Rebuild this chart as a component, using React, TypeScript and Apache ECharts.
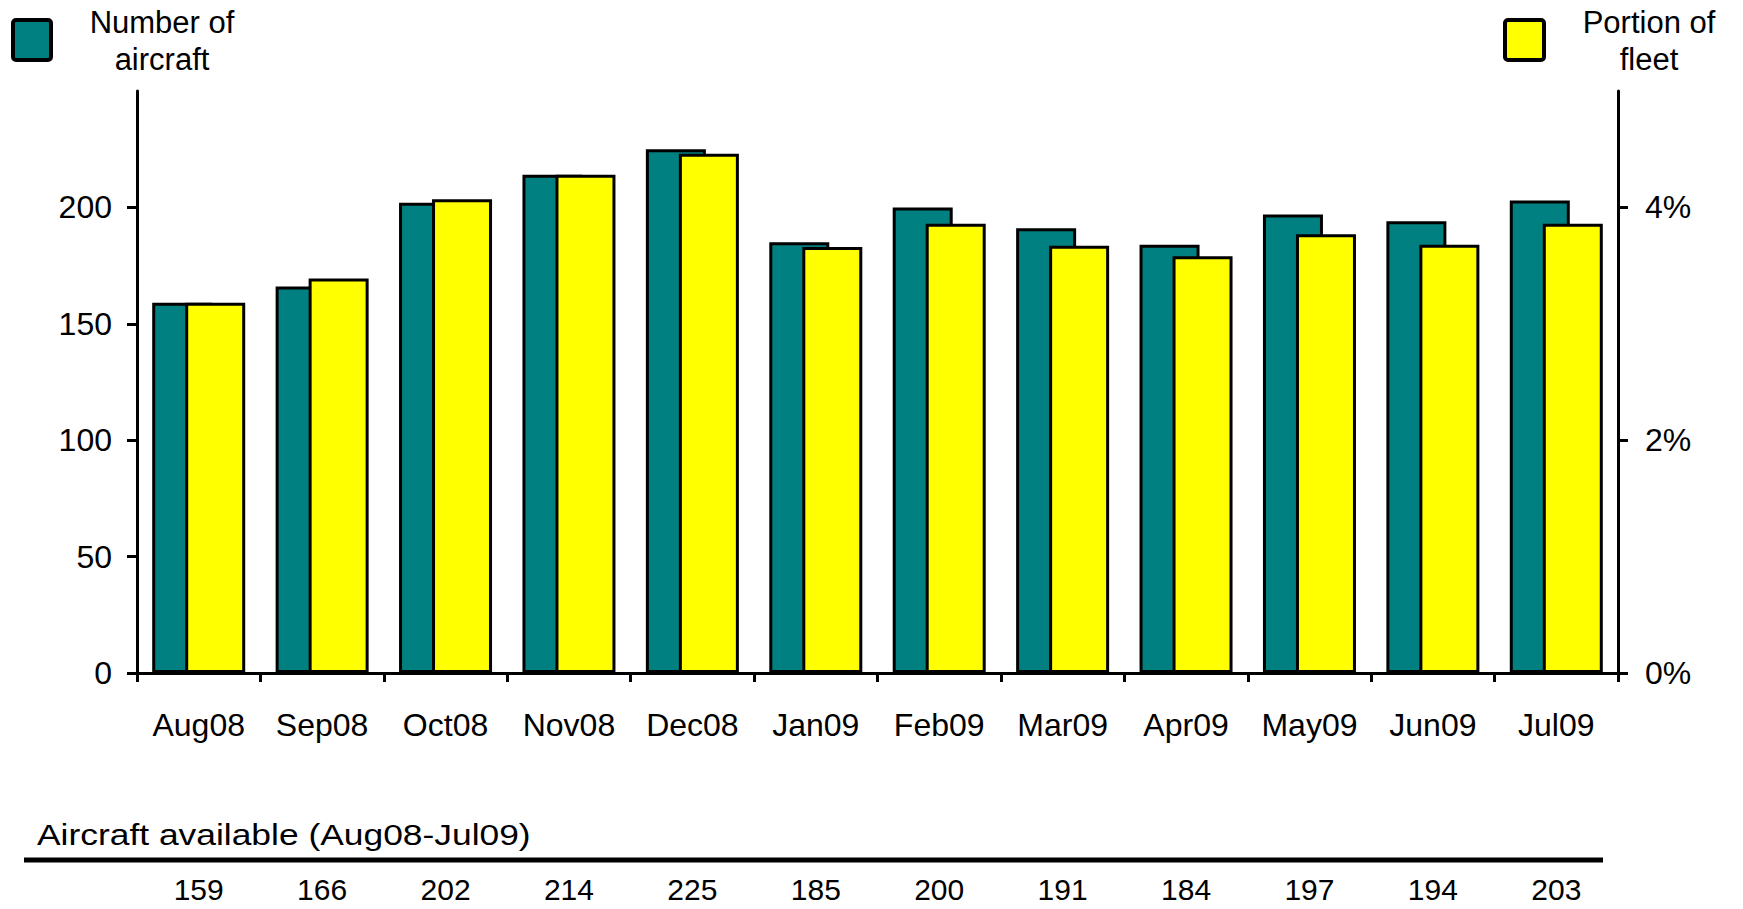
import React, { useEffect, useRef } from "react";
import * as echarts from "echarts";

const categories = ["Aug08", "Sep08", "Oct08", "Nov08", "Dec08", "Jan09", "Feb09", "Mar09", "Apr09", "May09", "Jun09", "Jul09"];
const aircraftCount = [159, 166, 202, 214, 225, 185, 200, 191, 184, 197, 194, 203];
const fleetPortion = [3.18, 3.39, 4.07, 4.28, 4.46, 3.66, 3.86, 3.67, 3.58, 3.77, 3.68, 3.86];
const leftTicks = [0, 50, 100, 150, 200];
const rightTicks = [0, 2, 4];
const tableTitle = "Aircraft available (Aug08-Jul09)";
const legendLeft = ["Number of", "aircraft"];
const legendRight = ["Portion of", "fleet"];

const FONT = "'Liberation Sans', Arial, Helvetica, sans-serif";
const TEAL = "#008080";
const YELLOW = "#FFFF00";

export default function App() {
  const ref = useRef<HTMLDivElement>(null);

  useEffect(() => {
    if (!ref.current) return;
    const chart = echarts.init(ref.current, null, { renderer: "svg" });
    const axisLine = { show: true, lineStyle: { color: "#000", width: 3 } };
    const tickStyle = { color: "#000", width: 3 };
    const option: any = {
      animation: false,
      backgroundColor: "#fff",
      textStyle: { fontFamily: FONT, color: "#000" },
      grid: { left: 137, right: 125, top: 91, bottom: 236, containLabel: false },
      xAxis: [
        {
          type: "category",
          data: categories,
          position: "bottom",
          axisLine,
          axisTick: { show: true, length: 9, interval: 0, lineStyle: tickStyle },
          axisLabel: { interval: 0, fontSize: 32, fontFamily: FONT, color: "#000", margin: 36 },
          splitLine: { show: false },
        },
        {
          type: "category",
          data: categories,
          position: "bottom",
          offset: 188,
          axisLine: { show: false },
          axisTick: { show: false },
          axisLabel: {
            interval: 0,
            fontSize: 30,
            fontFamily: FONT,
            color: "#000",
            margin: 13,
            formatter: (_v: string, i: number) => String(aircraftCount[i]),
          },
          splitLine: { show: false },
        },
      ],
      yAxis: [
        {
          type: "value",
          position: "left",
          min: 0,
          max: 250,
          interval: 50,
          axisLine,
          axisTick: { show: true, length: 10, lineStyle: tickStyle, customValues: leftTicks },
          axisLabel: { fontSize: 32, fontFamily: FONT, color: "#000", margin: 25, customValues: leftTicks },
          splitLine: { show: false },
        },
        {
          type: "value",
          position: "right",
          min: 0,
          max: 5,
          interval: 1,
          axisLine,
          axisTick: { show: true, length: 10, lineStyle: tickStyle, customValues: rightTicks },
          axisLabel: {
            fontSize: 32,
            fontFamily: FONT,
            color: "#000",
            margin: 27,
            customValues: rightTicks,
            formatter: (v: number) => `${v}%`,
          },
          splitLine: { show: false },
        },
      ],
      series: [
        {
          name: "Number of aircraft",
          type: "bar",
          xAxisIndex: 0,
          yAxisIndex: 0,
          data: aircraftCount,
          barWidth: 60,
          barGap: "-45%",
          itemStyle: { color: TEAL, borderColor: "#000", borderWidth: 3 },
        },
        {
          name: "Portion of fleet",
          type: "bar",
          xAxisIndex: 0,
          yAxisIndex: 1,
          data: fleetPortion,
          barWidth: 60,
          barGap: "-45%",
          itemStyle: { color: YELLOW, borderColor: "#000", borderWidth: 3 },
        },
      ],
      graphic: [
        {
          type: "rect",
          shape: { x: 13, y: 20, width: 38, height: 40, r: 3 },
          style: { fill: TEAL, stroke: "#000", lineWidth: 4 },
        },
        {
          type: "text",
          x: 162,
          y: 22,
          style: { text: legendLeft[0], font: `31px ${FONT}`, fill: "#000", align: "center", verticalAlign: "middle" },
        },
        {
          type: "text",
          x: 162,
          y: 59,
          style: { text: legendLeft[1], font: `31px ${FONT}`, fill: "#000", align: "center", verticalAlign: "middle" },
        },
        {
          type: "rect",
          shape: { x: 1505, y: 20, width: 39, height: 40, r: 3 },
          style: { fill: YELLOW, stroke: "#000", lineWidth: 4 },
        },
        {
          type: "text",
          x: 1649,
          y: 22,
          style: { text: legendRight[0], font: `31px ${FONT}`, fill: "#000", align: "center", verticalAlign: "middle" },
        },
        {
          type: "text",
          x: 1649,
          y: 59,
          style: { text: legendRight[1], font: `31px ${FONT}`, fill: "#000", align: "center", verticalAlign: "middle" },
        },
        {
          type: "text",
          x: 37,
          y: 834,
          scaleX: 1.18,
          style: { text: tableTitle, font: `30px ${FONT}`, fill: "#000", align: "left", verticalAlign: "middle" },
        },
        {
          type: "line",
          shape: { x1: 24, y1: 860, x2: 1603, y2: 860 },
          style: { stroke: "#000", lineWidth: 5 },
        },
      ],
    };
    chart.setOption(option);
    return () => chart.dispose();
  }, []);

  return (
    <div
      ref={ref}
      style={{ position: "absolute", left: 0, top: 0, width: 1743, height: 909, background: "#fff" }}
    />
  );
}
